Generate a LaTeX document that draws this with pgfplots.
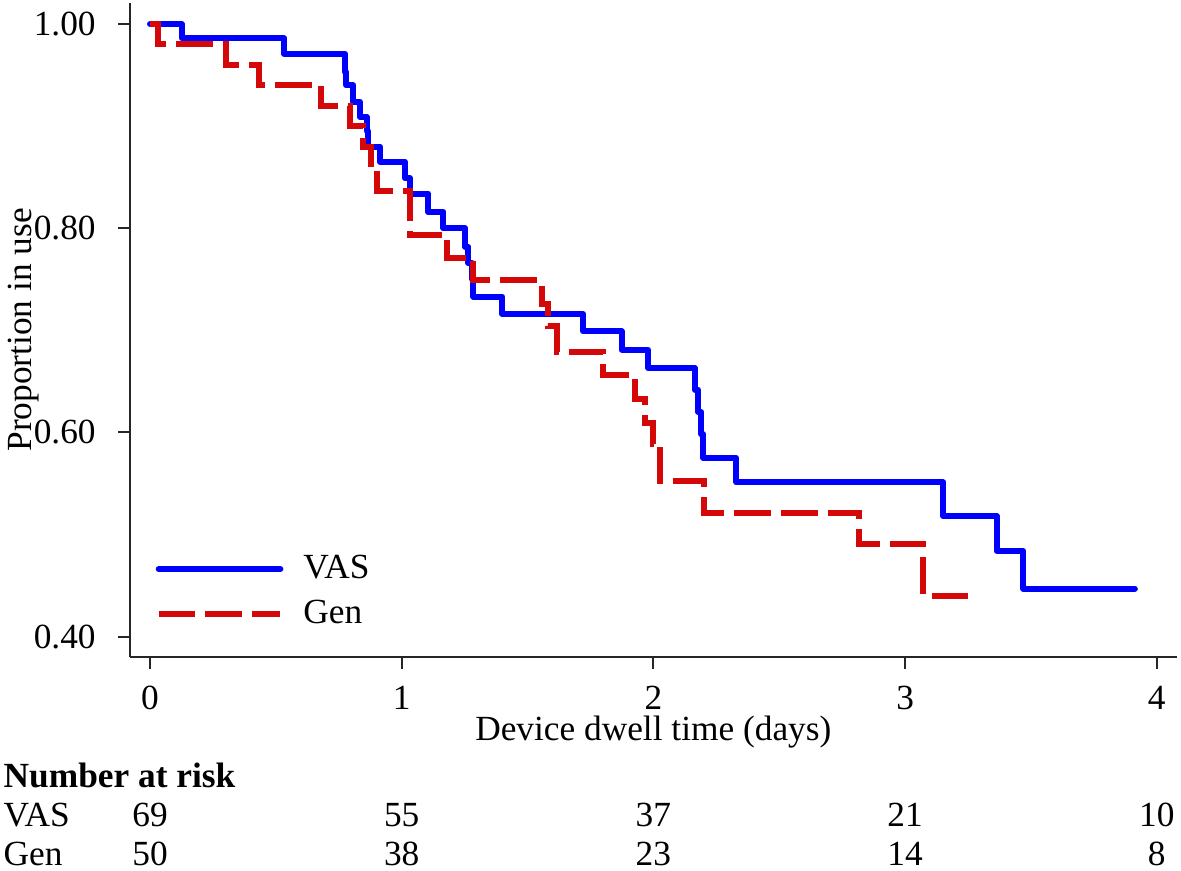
\documentclass[border=0pt]{standalone}
\usepackage{fontspec}
\setmainfont{Liberation Serif}
\usepackage{pgfplots}
\pgfplotsset{compat=1.18}
\definecolor{vasblue}{RGB}{0,0,255}
\definecolor{genred}{RGB}{212,8,8}
\begin{document}
\fontsize{10.6}{12.5}\selectfont
\begin{tikzpicture}
\begin{axis}[
  at={(0,0)}, anchor=south west,
  scale only axis, width=314.0pt, height=196.1pt,
  xmin=-0.0795, xmax=4.079, ymin=0.3804, ymax=1.0206,
  axis x line*=bottom, axis y line*=left,
  axis line style={line width=0.6pt, black!85},
  tick style={line width=0.6pt, black!85},
  tick align=outside, major tick length=3.6pt,
  xtick={0,1,2,3,4}, ytick={0.4,0.6,0.8,1.0},
  yticklabel style={/pgf/number format/fixed, /pgf/number format/precision=2, /pgf/number format/fixed zerofill, anchor=east, inner sep=0pt, xshift=-6.5pt},
  xticklabel style={anchor=north, inner sep=0pt, yshift=-5.1pt},
  /pgf/number format/assume math mode=true,
  xlabel={Device dwell time (days)},
  ylabel={Proportion in use},
  xlabel style={at={(axis description cs:0.5,0)}, anchor=base, inner sep=0pt, yshift=-25.3pt},
  ylabel style={at={(axis description cs:0,0.5)}, anchor=base, inner sep=0pt, yshift=29.5pt},
  clip=false,
  legend cell align=left,
  legend image code/.code={\draw[#1] (0pt,0pt) -- (36.5pt,0pt);},
  legend style={draw=none, fill=none, at={(axis cs:0.02,0.444)}, anchor=west, inner sep=0pt, row sep=5pt, column sep=6pt, nodes={inner sep=0pt}},
]
\addplot[const plot, vasblue, line width=1.8pt, line join=round, line cap=round] coordinates {
(0,1.000) (0.126,0.986) (0.533,0.971) (0.775,0.953) (0.780,0.940) (0.808,0.924)
(0.834,0.909) (0.861,0.895) (0.866,0.880) (0.914,0.865) (1.013,0.849) (1.033,0.834)
(1.106,0.816) (1.166,0.800) (1.252,0.782) (1.265,0.766) (1.278,0.750) (1.285,0.733)
(1.400,0.716) (1.721,0.699) (1.874,0.681) (1.980,0.663) (2.165,0.642) (2.178,0.620)
(2.190,0.598) (2.198,0.575) (2.330,0.551) (3.152,0.518) (3.364,0.484) (3.470,0.447)
(3.913,0.447)
};
\addlegendentry{VAS}
\addplot[const plot, genred, line width=1.8pt, dash pattern=on 11pt off 3pt] coordinates {
(0,1.000) (0.030,0.980) (0.300,0.960) (0.434,0.940) (0.679,0.920) (0.795,0.900)
(0.845,0.880) (0.877,0.860) (0.901,0.836) (1.033,0.793) (1.181,0.771) (1.285,0.749)
(1.556,0.726) (1.583,0.704) (1.616,0.679) (1.801,0.656) (1.928,0.633) (1.968,0.609)
(2.000,0.589) (2.026,0.552) (2.200,0.521) (2.815,0.491) (3.073,0.440) (3.258,0.440)
};
\addlegendentry{Gen}
\node[anchor=base west, inner sep=0pt, font=\bfseries] at (axis cs:-0.584,0.2518) {Number at risk};
\node[anchor=base west, inner sep=0pt] at (axis cs:-0.584,0.2136) {VAS};
\node[anchor=base west, inner sep=0pt] at (axis cs:-0.584,0.1754) {Gen};
\node[anchor=base, inner sep=0pt] at (axis cs:0,0.2136) {69};
\node[anchor=base, inner sep=0pt] at (axis cs:1,0.2136) {55};
\node[anchor=base, inner sep=0pt] at (axis cs:2,0.2136) {37};
\node[anchor=base, inner sep=0pt] at (axis cs:3,0.2136) {21};
\node[anchor=base, inner sep=0pt] at (axis cs:4,0.2136) {10};
\node[anchor=base, inner sep=0pt] at (axis cs:0,0.1754) {50};
\node[anchor=base, inner sep=0pt] at (axis cs:1,0.1754) {38};
\node[anchor=base, inner sep=0pt] at (axis cs:2,0.1754) {23};
\node[anchor=base, inner sep=0pt] at (axis cs:3,0.1754) {14};
\node[anchor=base, inner sep=0pt] at (axis cs:4,0.1754) {8};
\end{axis}
\pgfresetboundingbox
\useasboundingbox (-39pt,-64.3pt) rectangle (315.3pt,197pt);
\end{tikzpicture}
\end{document}
